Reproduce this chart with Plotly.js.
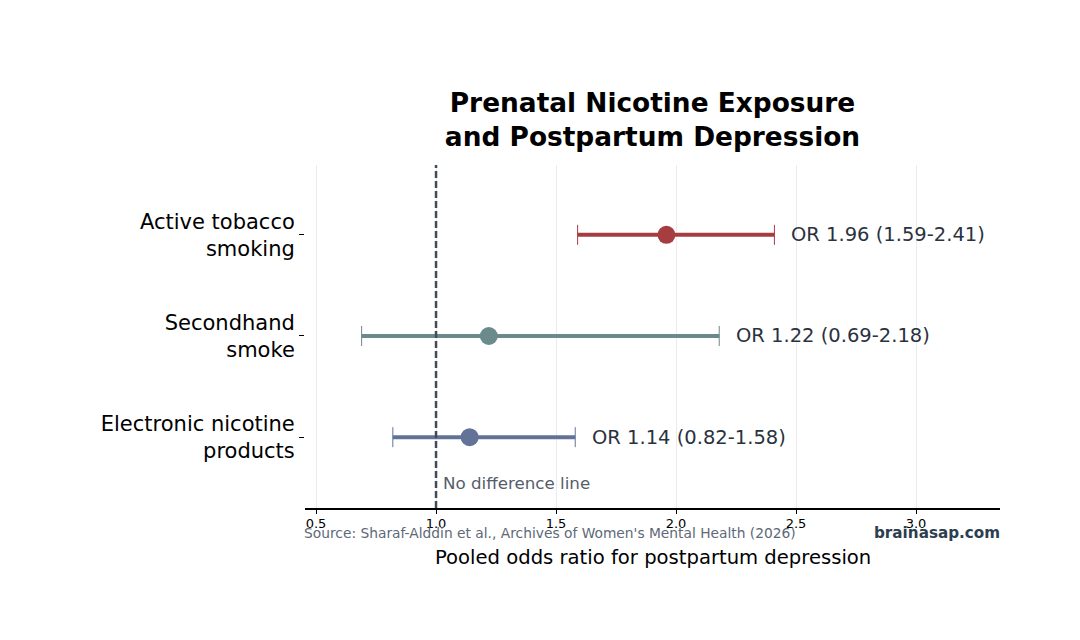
<!DOCTYPE html>
<html>
<head>
<meta charset="utf-8">
<script src="https://cdn.plot.ly/plotly-3.0.1.min.js"></script>
<style>
  html, body { margin: 0; padding: 0; background: #ffffff; }
  #chart { width: 1080px; height: 640px; }
</style>
</head>
<body>
<div id="chart"></div>
<script>
// Exposure categories, bottom to top
const categories = ["Electronic nicotine<br>products", "Secondhand<br>smoke", "Active tobacco<br>smoking"];
const oddsRatio = [1.14, 1.22, 1.96];
const ciLow = [0.82, 0.69, 1.59];
const ciHigh = [1.58, 2.18, 2.41];
const colors = ["#627397", "#6a8a8c", "#a63d40"];
const positions = [0, 1, 2];
const xTicks = [0.5, 1.0, 1.5, 2.0, 2.5, 3.0];
const xTickLabels = ["0.5", "1.0", "1.5", "2.0", "2.5", "3.0"];

const FONT = "DejaVu Sans, sans-serif";
const traces = [];

positions.forEach((p, i) => {
  // thick confidence-interval bar
  traces.push({
    type: "scatter", mode: "lines",
    x: [ciLow[i], ciHigh[i]], y: [p, p],
    line: { color: colors[i], width: 4 },
    hoverinfo: "skip", showlegend: false
  });
  // thin end caps
  traces.push({
    type: "scatter", mode: "markers",
    x: [oddsRatio[i]], y: [p],
    marker: { size: 1, color: "rgba(0,0,0,0)" },
    error_x: {
      type: "data", symmetric: false,
      array: [ciHigh[i] - oddsRatio[i]],
      arrayminus: [oddsRatio[i] - ciLow[i]],
      color: colors[i], thickness: 1, width: 10
    },
    hoverinfo: "skip", showlegend: false
  });
  // point estimate
  traces.push({
    type: "scatter", mode: "markers",
    x: [oddsRatio[i]], y: [p],
    marker: { size: 18, color: colors[i] },
    showlegend: false
  });
});

const annotations = positions.map((p, i) => ({
  x: ciHigh[i], y: p, xref: "x", yref: "y",
  text: "OR " + oddsRatio[i].toFixed(2) + " (" + ciLow[i].toFixed(2) + "-" + ciHigh[i].toFixed(2) + ")",
  showarrow: false, xanchor: "left", yanchor: "middle", xshift: 15,
  font: { family: FONT, size: 19.5, color: "#2a3240" }
}));

annotations.push({
  x: 1.0, y: -0.45, xref: "x", yref: "y",
  text: "No difference line", showarrow: false,
  xanchor: "left", yanchor: "middle", xshift: 5,
  font: { family: FONT, size: 16.7, color: "#555d6b" }
});
annotations.push({
  x: 0, y: -0.072, xref: "paper", yref: "paper",
  text: "Source: Sharaf-Alddin et al., Archives of Women's Mental Health (2026)",
  showarrow: false, xanchor: "left", yanchor: "middle", xshift: -3,
  font: { family: FONT, size: 13.8, color: "#5e6878" }
});
annotations.push({
  x: 1, y: -0.072, xref: "paper", yref: "paper",
  text: "<b>brainasap.com</b>", showarrow: false, xanchor: "right", yanchor: "middle", xshift: 2,
  font: { family: FONT, size: 15.2, color: "#2c3e50" }
});
annotations.push({
  x: 0.5, y: -0.145, xref: "paper", yref: "paper",
  text: "Pooled odds ratio for postpartum depression", showarrow: false,
  xanchor: "center", yanchor: "middle",
  font: { family: FONT, size: 19.6, color: "#000000" }
});

const layout = {
  width: 1080, height: 640,
  margin: { l: 305, r: 80, t: 165, b: 132 },
  paper_bgcolor: "#ffffff", plot_bgcolor: "#ffffff",
  font: { family: FONT, color: "#000000" },
  title: {
    text: "<b>Prenatal Nicotine Exposure<br>and Postpartum Depression</b>",
    x: 0.5, xref: "paper", y: 1 - 112 / 640, yref: "container", yanchor: "middle",
    font: { family: FONT, size: 26.4, color: "#000000" }
  },
  xaxis: {
    range: [0.454, 3.35],
    tickvals: xTicks, ticktext: xTickLabels,
    tickfont: { family: FONT, size: 13, color: "#000000" },
    showgrid: true, gridcolor: "#ebebeb", gridwidth: 1,
    showline: true, linecolor: "#000000", linewidth: 1.5,
    zeroline: false, ticks: "outside", ticklen: 4, tickwidth: 1, tickcolor: "#000000",
    ticklabelstandoff: -1, fixedrange: true
  },
  yaxis: {
    range: [-0.7, 2.69],
    tickvals: positions, ticktext: categories,
    tickfont: { family: FONT, size: 21, color: "#000000" },
    showgrid: false, zeroline: false, showline: false,
    ticks: "outside", ticklen: 5, tickcolor: "#000000", tickwidth: 1,
    fixedrange: true
  },
  shapes: [{
    type: "line", xref: "x", yref: "paper",
    x0: 1.0, x1: 1.0, y0: 0, y1: 1,
    line: { color: "#434a58", width: 2.5, dash: "7px,3px" }
  }],
  annotations: annotations
};

Plotly.newPlot("chart", traces, layout, { displayModeBar: false, staticPlot: true });
</script>
</body>
</html>
